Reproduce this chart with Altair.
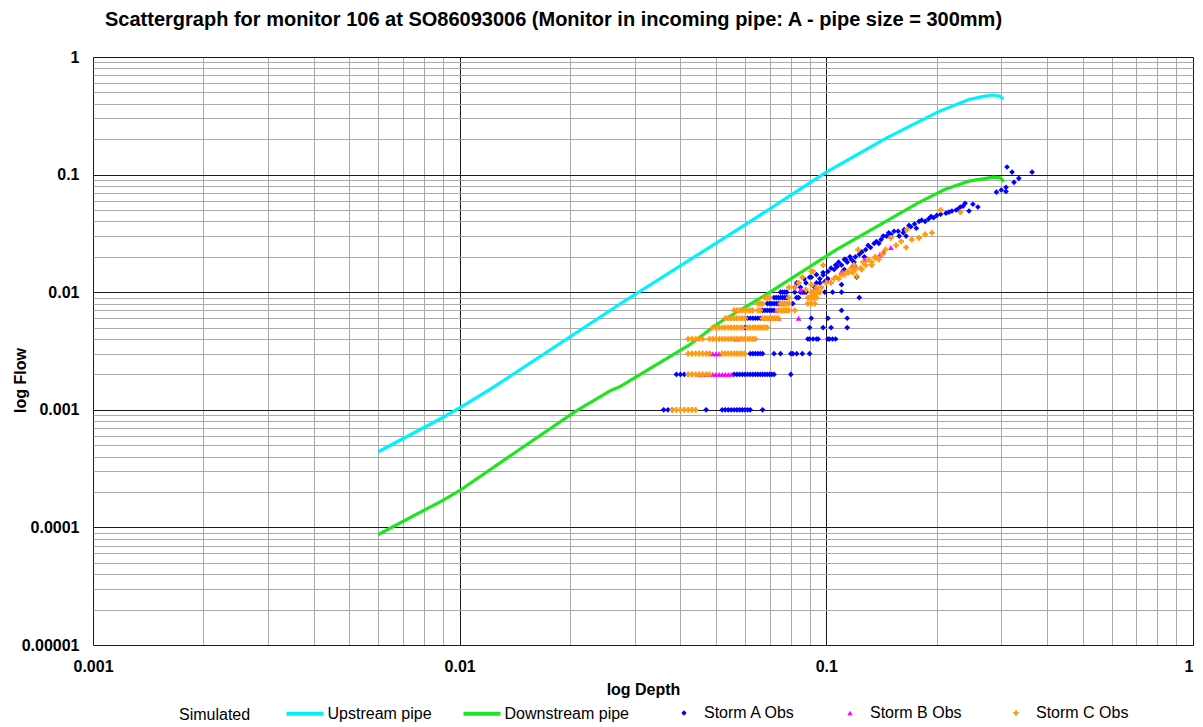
import json
import altair as alt
import pandas as pd

TITLE = "Scattergraph for monitor 106 at SO86093006 (Monitor in incoming pipe: A - pipe size = 300mm)"
LINE_SERIES = ["Upstream pipe", "Downstream pipe"]
LINE_COLORS = ["#00F2FF", "#1EE61E"]
OBS_SERIES = ["Storm A Obs", "Storm B Obs", "Storm C Obs"]
OBS_COLORS = ["#0000FF", "#FF00FF", "#FF9A10"]
OBS_SHAPES = ["diamond", "triangle-up", "cross"]

X_MAJOR = [0.001, 0.01, 0.1, 1]
Y_MAJOR = [0.00001, 0.0001, 0.001, 0.01, 0.1, 1]
X_GRID = sorted({round(m * d, 12) for d in X_MAJOR[:-1] for m in range(1, 10)} | {1})
Y_GRID = sorted({round(m * d, 12) for d in Y_MAJOR[:-1] for m in range(1, 10)} | {1})

# Simulated lines (depth m, flow m3/s)
UP_DEPTH = [0.006, 0.009, 0.0101, 0.0121, 0.0273, 0.045, 0.0618, 0.1, 0.1457, 0.203, 0.245, 0.265, 0.283, 0.296, 0.304]
UP_FLOW = [0.00044, 0.00086, 0.00106, 0.00149, 0.0079, 0.0212, 0.0397, 0.105, 0.204, 0.345, 0.435, 0.458, 0.475, 0.466, 0.439]
DOWN_DEPTH = [0.006, 0.009, 0.0101, 0.01456, 0.0208, 0.0257, 0.0273, 0.0423, 0.051, 0.0702, 0.1063, 0.179, 0.211, 0.245, 0.286, 0.298, 0.305]
DOWN_FLOW = [0.000087, 0.00017, 0.00021, 0.00046, 0.00098, 0.00145, 0.00157, 0.00356, 0.0055, 0.01, 0.0229, 0.058, 0.075, 0.088, 0.095, 0.094, 0.087]

# Observations on quantised flow rows: flow -> depths
STORM_A_ROWS = {
    0.001: [0.036, 0.037, 0.038, 0.047, 0.052, 0.053, 0.054, 0.055, 0.056, 0.057, 0.058, 0.059, 0.060, 0.061, 0.062, 0.067],
    0.002: [0.039, 0.040, 0.041, 0.056, 0.057, 0.058, 0.059, 0.060, 0.061, 0.062, 0.063, 0.064, 0.065, 0.066, 0.067, 0.068, 0.069, 0.070, 0.071, 0.072, 0.080],
    0.003: [0.048, 0.062, 0.063, 0.064, 0.065, 0.066, 0.067, 0.072, 0.075, 0.080, 0.081, 0.083, 0.086, 0.090],
    0.004: [0.089, 0.090, 0.092, 0.094, 0.095, 0.101, 0.102, 0.104, 0.106],
    0.005: [0.060, 0.090, 0.098, 0.103, 0.114],
    0.006: [0.061, 0.062, 0.063, 0.064, 0.065, 0.066, 0.091, 0.101, 0.114],
    0.007: [0.067, 0.068, 0.069, 0.070, 0.071, 0.072, 0.110],
    0.008: [0.069, 0.070, 0.071, 0.072, 0.073, 0.074, 0.081],
    0.009: [0.072, 0.073, 0.074, 0.075, 0.076, 0.077, 0.078, 0.083, 0.084, 0.123],
    0.010: [0.075, 0.076, 0.077, 0.078, 0.082, 0.085, 0.086, 0.087, 0.088, 0.099, 0.104, 0.110],
}
STORM_B_ROWS = {
    0.002: [0.045, 0.046, 0.047, 0.048, 0.049, 0.050, 0.051, 0.052, 0.053, 0.054, 0.055],
    0.003: [0.049, 0.050, 0.051],
    0.004: [0.057],
    0.006: [0.068, 0.070, 0.072, 0.074, 0.084],
    0.007: [0.073],
    0.008: [0.076, 0.078],
    0.009: [0.093],
}
STORM_C_ROWS = {
    0.001: [0.038, 0.039, 0.040, 0.041, 0.042, 0.043, 0.044],
    0.002: [0.042, 0.043, 0.044, 0.045, 0.046, 0.047, 0.048],
    0.003: [0.042, 0.043, 0.044, 0.045, 0.046, 0.047, 0.048, 0.052, 0.053, 0.054, 0.055, 0.056, 0.057, 0.058, 0.059, 0.060],
    0.004: [0.042, 0.043, 0.044, 0.045, 0.046, 0.048, 0.049, 0.050, 0.051, 0.052, 0.053, 0.054, 0.055, 0.056, 0.057, 0.058, 0.059, 0.060, 0.061, 0.062, 0.063, 0.064],
    0.005: [0.049, 0.050, 0.051, 0.052, 0.053, 0.054, 0.055, 0.056, 0.057, 0.058, 0.059, 0.061, 0.062, 0.063, 0.064, 0.065, 0.066, 0.067, 0.068, 0.069],
    0.006: [0.053, 0.054, 0.055, 0.056, 0.057, 0.058, 0.059, 0.060, 0.067, 0.068, 0.069, 0.070, 0.071, 0.072, 0.073, 0.074],
    0.007: [0.056, 0.057, 0.058, 0.059, 0.060, 0.061, 0.062, 0.063, 0.065, 0.066, 0.074, 0.075, 0.076, 0.077, 0.078, 0.079, 0.082],
    0.008: [0.065, 0.066, 0.067, 0.075, 0.076, 0.077, 0.078, 0.079, 0.089, 0.091, 0.093],
    0.009: [0.068, 0.069, 0.070, 0.079, 0.089, 0.090, 0.091, 0.092, 0.093, 0.094],
    0.010: [0.091, 0.092, 0.093, 0.094, 0.095, 0.096],
}

# Observations above 0.01 (depth, flow)
STORM_A_UPPER = [
    (0.311, 0.116), (0.321, 0.105), (0.364, 0.105), (0.335, 0.093), (0.325, 0.086), (0.309, 0.078),
    (0.300, 0.074), (0.291, 0.071), (0.309, 0.072),
    (0.259, 0.053), (0.251, 0.056), (0.239, 0.057), (0.245, 0.049), (0.232, 0.053), (0.226, 0.050),
    (0.216, 0.048), (0.205, 0.046), (0.196, 0.043), (0.190, 0.042), (0.186, 0.040), (0.179, 0.040),
    (0.174, 0.038), (0.170, 0.036), (0.176, 0.035), (0.162, 0.032), (0.165, 0.030), (0.158, 0.030),
    (0.153, 0.033), (0.148, 0.032), (0.141, 0.028), (0.139, 0.026), (0.135, 0.026), (0.132, 0.024),
    (0.128, 0.023), (0.123, 0.021), (0.120, 0.020), (0.117, 0.019), (0.114, 0.018), (0.110, 0.017),
    (0.107, 0.0165), (0.105, 0.0156), (0.101, 0.015), (0.098, 0.0147), (0.094, 0.0141), (0.090, 0.0134),
    (0.121, 0.0134), (0.098, 0.014), (0.106, 0.017), (0.112, 0.0156), (0.113, 0.019), (0.118, 0.0165),
    (0.099, 0.0123), (0.094, 0.012), (0.091, 0.0134), (0.087, 0.013), (0.083, 0.012), (0.082, 0.011),
    (0.110, 0.0116), (0.103, 0.016), (0.108, 0.018), (0.112, 0.019), (0.116, 0.020), (0.119, 0.018),
    (0.125, 0.022), (0.127, 0.020), (0.130, 0.025), (0.137, 0.027), (0.143, 0.030), (0.146, 0.030),
    (0.150, 0.031), (0.157, 0.033), (0.163, 0.034), (0.168, 0.037), (0.182, 0.041), (0.193, 0.044),
    (0.200, 0.045), (0.212, 0.047), (0.220, 0.049), (0.229, 0.051), (0.236, 0.054), (0.096, 0.013),
    (0.101, 0.013), (0.085, 0.011), (0.088, 0.012), (0.093, 0.011), (0.096, 0.012),
]
STORM_B_UPPER = [
    (0.150, 0.024), (0.101, 0.0123), (0.094, 0.011), (0.140, 0.021), (0.127, 0.019), (0.110, 0.015),
    (0.085, 0.0105), (0.120, 0.017), (0.143, 0.022),
]
STORM_C_UPPER = [
    (0.205, 0.050), (0.232, 0.048), (0.166, 0.034), (0.194, 0.032), (0.186, 0.031), (0.179, 0.029),
    (0.171, 0.028), (0.150, 0.029), (0.160, 0.027), (0.165, 0.024), (0.155, 0.025), (0.122, 0.023),
    (0.145, 0.023), (0.142, 0.021), (0.136, 0.020), (0.139, 0.019), (0.133, 0.018), (0.128, 0.017),
    (0.124, 0.016), (0.120, 0.0156), (0.115, 0.0147), (0.112, 0.0141), (0.091, 0.015), (0.121, 0.0137),
    (0.118, 0.0147), (0.125, 0.0156), (0.133, 0.017), (0.136, 0.0196), (0.106, 0.0134), (0.092, 0.015),
    (0.098, 0.017), (0.086, 0.0134), (0.091, 0.0116), (0.094, 0.011), (0.088, 0.0105), (0.108, 0.013),
    (0.110, 0.014), (0.114, 0.015), (0.117, 0.016), (0.119, 0.017), (0.126, 0.018), (0.130, 0.019),
    (0.100, 0.012), (0.103, 0.012), (0.105, 0.013), (0.097, 0.011), (0.082, 0.011), (0.084, 0.012),
    (0.079, 0.011),
]

# ---- tables ----
line_rows = []
for name, ds, fs in [("Upstream pipe", UP_DEPTH, UP_FLOW), ("Downstream pipe", DOWN_DEPTH, DOWN_FLOW)]:
    for i, (d, f) in enumerate(zip(ds, fs)):
        line_rows.append({"series": name, "depth": d, "flow": f, "i": i})
lines_df = pd.DataFrame(line_rows)

pt_rows = []
for name, rows, upper in [("Storm A Obs", STORM_A_ROWS, STORM_A_UPPER),
                          ("Storm B Obs", STORM_B_ROWS, STORM_B_UPPER),
                          ("Storm C Obs", STORM_C_ROWS, STORM_C_UPPER)]:
    for f, ds in rows.items():
        for d in ds:
            pt_rows.append({"series": name, "depth": d, "flow": f})
    for d, f in upper:
        pt_rows.append({"series": name, "depth": d, "flow": f})
pts_df = pd.DataFrame(pt_rows)

FONT = "Liberation Sans"
x_test = "indexof(%s, datum.value) >= 0" % json.dumps(X_MAJOR)
y_test = "indexof(%s, datum.value) >= 0" % json.dumps(Y_MAJOR)

x_scale = alt.Scale(type="log", domain=[0.001, 1], nice=False)
y_scale = alt.Scale(type="log", domain=[0.00001, 1], nice=False)

x_axis = alt.Axis(
    values=X_GRID, labelExpr=f"{x_test} ? toString(datum.value) : ''",
    gridColor={"condition": {"test": x_test, "value": "#1a1a1a"}, "value": "#aaaaaa"},
    labelAlign={"condition": {"test": "datum.value == 1", "value": "right"}, "value": "center"},
    gridWidth=1, ticks=False, domain=False, labelOverlap=False, labelFlush=False,
    labelFont=FONT, labelFontSize=16, labelFontWeight="bold", labelColor="black", labelPadding=13,
    title="log Depth", titleFont=FONT, titleFontSize=16, titleFontWeight="bold", titleColor="black",
    titleY=44, titleBaseline="middle",
)
y_axis = alt.Axis(
    values=Y_GRID, labelExpr=f"{y_test} ? toString(datum.value) : ''",
    gridColor={"condition": {"test": y_test, "value": "#1a1a1a"}, "value": "#aaaaaa"},
    gridWidth=1, ticks=False, domain=False, labelOverlap=False, labelFlush=False,
    labelFont=FONT, labelFontSize=16, labelFontWeight="bold", labelColor="black", labelPadding=14,
    title="log Flow", titleFont=FONT, titleFontSize=16, titleFontWeight="bold", titleColor="black",
    titleX=-73, titleY=323, titleBaseline="middle", titleAlign="center",
)

line_legend = alt.Legend(
    title="Simulated", orient="none", legendX=86, legendY=636, direction="horizontal",
    titleOrient="left", titleFont=FONT, titleFontSize=16, titleFontWeight="normal", titleColor="black",
    titlePadding=33.5, titleBaseline="top", titleAnchor="middle",
    labelFont=FONT, labelFontSize=16, labelColor="black", labelOffset=2,
    symbolType="stroke", symbolSize=1369, symbolStrokeWidth=4, columnPadding=23,
)
obs_legend = alt.Legend(
    title=None, orient="none", legendX=583, legendY=648, direction="horizontal",
    labelFont=FONT, labelFontSize=16, labelColor="black", labelOffset=12,
    symbolSize=28, symbolStrokeWidth=0, symbolOpacity=1, columnPadding=46,
)

lines = alt.Chart(lines_df).mark_line(strokeWidth=3.2).encode(
    x=alt.X("depth:Q", scale=x_scale, axis=x_axis),
    y=alt.Y("flow:Q", scale=y_scale, axis=y_axis),
    color=alt.Color("series:N", scale=alt.Scale(domain=LINE_SERIES, range=LINE_COLORS), legend=line_legend),
    order="i:Q",
)
points = alt.Chart(pts_df).mark_point(filled=True, size=32, opacity=1).encode(
    x=alt.X("depth:Q", scale=x_scale, axis=x_axis),
    y=alt.Y("flow:Q", scale=y_scale, axis=y_axis),
    fill=alt.Fill("series:N", scale=alt.Scale(domain=OBS_SERIES, range=OBS_COLORS), legend=obs_legend),
    shape=alt.Shape("series:N", scale=alt.Scale(domain=OBS_SERIES, range=OBS_SHAPES), legend=obs_legend),
)

chart = alt.layer(lines, points).properties(
    width=1100, height=588,
    title=alt.TitleParams(TITLE, anchor="start", frame="group", dx=12, offset=19, font=FONT, fontSize=20,
                          fontWeight="bold", color="black"),
    autosize=alt.AutoSizeParams(type="none"),
    padding={"left": 85, "top": 49, "right": 2, "bottom": 81},
).configure_view(stroke="black", strokeWidth=2.5).configure(background="white")

chart.save("out.html", embed_options={"renderer": "svg", "actions": False})
